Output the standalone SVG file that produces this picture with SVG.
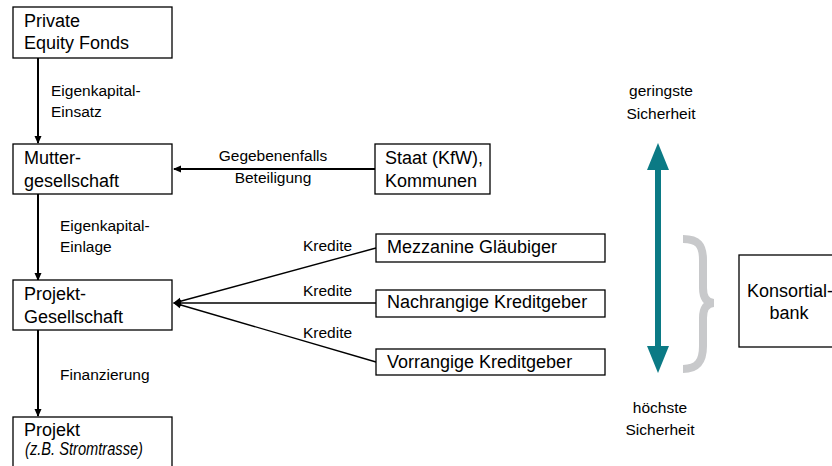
<svg xmlns="http://www.w3.org/2000/svg" width="832" height="466" viewBox="0 0 832 466">
<style>
.box{fill:#fff;stroke:#000;stroke-width:1.3}
.t{font-family:"Liberation Sans",Arial,sans-serif;font-size:18px;fill:#000}
.l{font-family:"Liberation Sans",Arial,sans-serif;font-size:15.5px;fill:#000}
.c{stroke:#000;stroke-width:2;fill:none}
.k{stroke:#000;stroke-width:1.4;fill:none}
</style>
<defs>
<marker id="ah" markerWidth="8" markerHeight="8" refX="7" refY="4" orient="auto" markerUnits="userSpaceOnUse">
<path d="M0,0.5 L8,4 L0,7.5 Z" fill="#000"/>
</marker>
</defs>
<rect width="832" height="466" fill="#fff"/>
<g id="connectors">
<line class="c" x1="38" y1="58" x2="38" y2="143" marker-end="url(#ah)"/>
<line class="c" x1="375" y1="169" x2="174" y2="169" marker-end="url(#ah)"/>
<line class="c" x1="38" y1="194" x2="38" y2="280" marker-end="url(#ah)"/>
<line class="k" x1="376" y1="248" x2="174" y2="303" marker-end="url(#ah)"/>
<line class="k" x1="376" y1="303" x2="174" y2="303" marker-end="url(#ah)"/>
<line class="k" x1="376" y1="362" x2="174" y2="303" marker-end="url(#ah)"/>
<line class="c" x1="38" y1="330" x2="38" y2="416" marker-end="url(#ah)"/>
<text class="l" x="51" y="96">Eigenkapital-</text>
<text class="l" x="51" y="117">Einsatz</text>
<text class="l" x="273" y="161" text-anchor="middle">Gegebenenfalls</text>
<text class="l" x="273" y="183" text-anchor="middle">Beteiligung</text>
<text class="l" x="60" y="231">Eigenkapital-</text>
<text class="l" x="60" y="252">Einlage</text>
<text class="l" x="303" y="251">Kredite</text>
<text class="l" x="303" y="296">Kredite</text>
<text class="l" x="303" y="338">Kredite</text>
<text class="l" x="60" y="380">Finanzierung</text>
</g>
<g id="private-equity">
<rect class="box" x="13" y="7" width="159" height="51"/>
<text class="t" x="24" y="27">Private</text>
<text class="t" x="24" y="49">Equity Fonds</text>
</g>
<g id="mutter">
<rect class="box" x="13" y="144" width="159" height="50"/>
<text class="t" x="24" y="164">Mutter-</text>
<text class="t" x="24" y="187">gesellschaft</text>
</g>
<g id="staat">
<rect class="box" x="375" y="144" width="115" height="50"/>
<text class="t" x="385" y="164">Staat (KfW),</text>
<text class="t" x="385" y="187">Kommunen</text>
</g>
<g id="projektgesellschaft">
<rect class="box" x="13" y="280" width="159" height="50"/>
<text class="t" x="24" y="300">Projekt-</text>
<text class="t" x="24" y="323">Gesellschaft</text>
</g>
<g id="mezzanine">
<rect class="box" x="376" y="234" width="229" height="28"/>
<text class="t" x="387" y="253">Mezzanine Gläubiger</text>
</g>
<g id="nachrangig">
<rect class="box" x="376" y="290" width="229" height="27"/>
<text class="t" x="387" y="308">Nachrangige Kreditgeber</text>
</g>
<g id="vorrangig">
<rect class="box" x="376" y="349" width="229" height="26"/>
<text class="t" x="387" y="368">Vorrangige Kreditgeber</text>
</g>
<g id="projekt">
<rect class="box" x="13" y="417" width="159" height="60"/>
<text class="t" x="24" y="436">Projekt</text>
<text class="t" x="25" y="455" font-style="italic" font-size="16" textLength="118" lengthAdjust="spacingAndGlyphs">(z.B. Stromtrasse)</text>
</g>
<g id="sicherheit">
<line x1="658" y1="165" x2="658" y2="350" stroke="#0b7a85" stroke-width="6"/>
<path d="M658,143 L669,170 L647,170 Z" fill="#0b7a85"/>
<path d="M658,373 L669,346 L647,346 Z" fill="#0b7a85"/>
<text class="l" x="661" y="96" text-anchor="middle">geringste</text>
<text class="l" x="661" y="119" text-anchor="middle">Sicherheit</text>
<text class="l" x="660" y="413" text-anchor="middle">höchste</text>
<text class="l" x="660" y="435" text-anchor="middle">Sicherheit</text>
</g>
<g id="brace">
<path d="M683,239 C698,239 703,245 703,260 L703,288 C703,298 707,303 714,303 C707,303 703,308 703,318 L703,346 C703,361 698,369 683,369" fill="none" stroke="#c8c9cb" stroke-width="8"/>
</g>
<g id="konsortialbank">
<rect class="box" x="739" y="255" width="100" height="92"/>
<text class="t" x="747" y="297" font-size="17">Konsortial-</text>
<text class="t" x="789" y="319" font-size="17" text-anchor="middle">bank</text>
</g>
</svg>
